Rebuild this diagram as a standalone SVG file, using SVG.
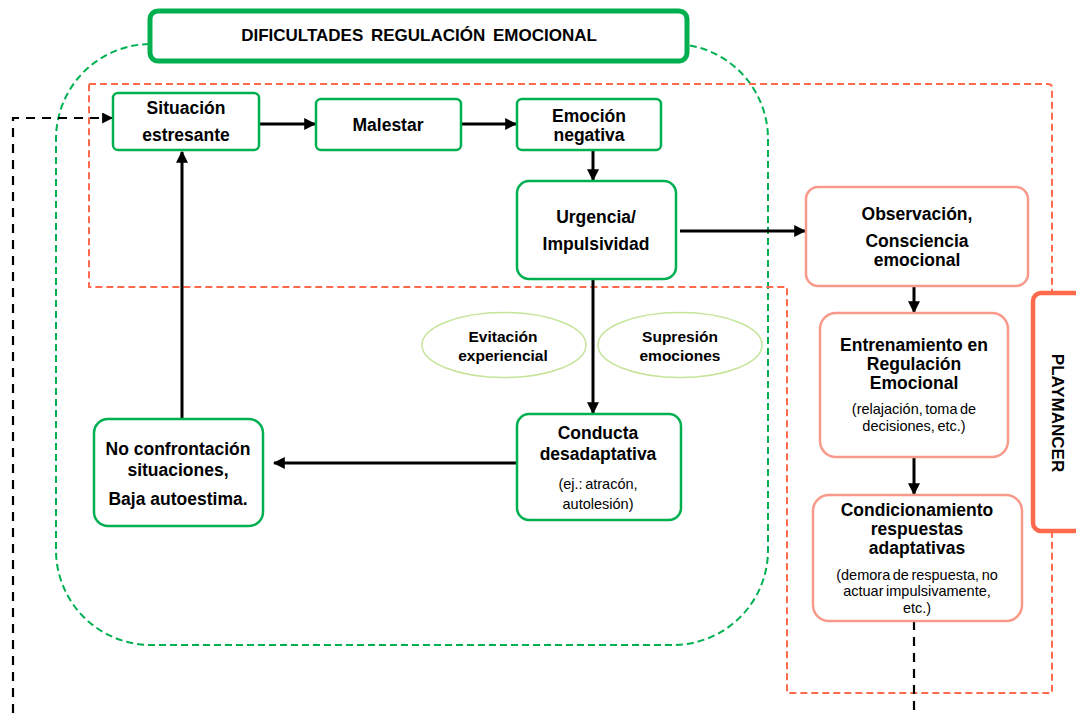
<svg xmlns="http://www.w3.org/2000/svg" width="1076" height="713" viewBox="0 0 1076 713">
<style>
text{font-family:"Liberation Sans",Arial,sans-serif;fill:#000;text-anchor:middle}
.b{font-weight:bold;font-size:17.5px}
.n{font-size:14.5px;word-spacing:-1.5px}
.o{font-weight:bold;font-size:15.5px}
.g{fill:#fff;stroke:#00B050;stroke-width:2.5}
.s{fill:#fff;stroke:#F9998A;stroke-width:2.5}
.e{fill:#fff;stroke:#C4E59A;stroke-width:1.5}
.a{stroke:#000;stroke-width:3;fill:none;marker-end:url(#ah)}
.d{stroke:#000;stroke-width:2.2;fill:none;stroke-dasharray:9 7}
</style>
<defs>
<marker id="ah" viewBox="0 0 10 10" refX="9" refY="5" markerWidth="4" markerHeight="4" orient="auto" markerUnits="strokeWidth"><path d="M0,0L10,5L0,10z" fill="#000"/></marker>
<marker id="ah2" viewBox="0 0 10 10" refX="9" refY="5" markerWidth="5" markerHeight="5" orient="auto" markerUnits="strokeWidth"><path d="M0,0L10,5L0,10z" fill="#000"/></marker>
</defs>
<rect width="1076" height="713" fill="#fff"/>
<g id="containers">
<rect x="56" y="44" width="712" height="601" rx="95" ry="95" fill="none" stroke="#00B050" stroke-width="2" stroke-dasharray="7 4"/>
<path d="M89,84 L1048,84 Q1052,84 1052,88 L1052,693 L787,693 L787,287 L89,287 Z" fill="none" stroke="#FF6A4D" stroke-width="2" stroke-dasharray="7 4"/>
</g>
<g id="title">
<rect x="150" y="11" width="537" height="50" rx="8" fill="#fff" stroke="#00B050" stroke-width="5"/>
<text x="419" y="41" class="b" style="font-size:17px;word-spacing:3px">DIFICULTADES REGULACIÓN EMOCIONAL</text>
</g>
<g id="playmancer">
<rect x="1033" y="293" width="60" height="238" rx="8" fill="#fff" stroke="#FF6A4D" stroke-width="4.5"/>
<text x="1058" y="413" class="b" transform="rotate(90 1058 413)" dy="6" style="font-size:17px">PLAYMANCER</text>
</g>
<g id="connectors">
<line x1="259" y1="124" x2="315" y2="124" class="a"/>
<line x1="461" y1="124" x2="516" y2="124" class="a"/>
<line x1="593" y1="151" x2="593" y2="180" class="a"/>
<line x1="680" y1="231" x2="805" y2="231" class="a"/>
<line x1="593" y1="279" x2="593" y2="413" class="a"/>
<line x1="517" y1="463" x2="274" y2="463" class="a"/>
<line x1="182" y1="419" x2="182" y2="152" class="a"/>
<line x1="914" y1="286" x2="914" y2="312" class="a"/>
<line x1="914" y1="457" x2="914" y2="494" class="a"/>
<path d="M914,621 L914,713" class="d"/>
<path d="M13,713 L13,118 L112,118" class="d" marker-end="url(#ah2)"/>
</g>
<g id="situacion">
<rect x="113" y="93" width="146" height="57" rx="5" class="g"/>
<text x="186" y="114" class="b">Situación</text>
<text x="186" y="141" class="b">estresante</text>
</g>
<g id="malestar">
<rect x="316" y="99" width="145" height="51" rx="5" class="g"/>
<text x="388" y="131" class="b">Malestar</text>
</g>
<g id="emocion">
<rect x="517" y="99" width="144" height="51" rx="5" class="g"/>
<text x="589" y="122" class="b">Emoción</text>
<text x="589" y="141" class="b">negativa</text>
</g>
<g id="urgencia">
<rect x="517" y="181" width="159" height="98" rx="12" class="g"/>
<text x="596" y="223" class="b">Urgencia/</text>
<text x="596" y="250" class="b">Impulsividad</text>
</g>
<g id="observacion">
<rect x="806" y="187" width="222" height="99" rx="12" class="s"/>
<text x="917" y="220" class="b">Observación,</text>
<text x="917" y="247" class="b">Consciencia</text>
<text x="917" y="266" class="b">emocional</text>
</g>
<g id="entrenamiento">
<rect x="820" y="313" width="188" height="144" rx="16" class="s"/>
<text x="914" y="351" class="b">Entrenamiento en</text>
<text x="914" y="370" class="b">Regulación</text>
<text x="914" y="389" class="b">Emocional</text>
<text x="914" y="414" class="n">(relajación, toma de</text>
<text x="914" y="431" class="n">decisiones, etc.)</text>
</g>
<g id="condicionamiento">
<rect x="813" y="495" width="209" height="126" rx="16" class="s"/>
<text x="917" y="516" class="b">Condicionamiento</text>
<text x="917" y="535" class="b">respuestas</text>
<text x="917" y="554" class="b">adaptativas</text>
<text x="917" y="580" class="n">(demora de respuesta, no</text>
<text x="917" y="596" class="n">actuar impulsivamente,</text>
<text x="917" y="613" class="n">etc.)</text>
</g>
<g id="evitacion">
<ellipse cx="504" cy="345" rx="82" ry="32.5" class="e"/>
<text x="503" y="342" class="o">Evitación</text>
<text x="503" y="361" class="o">experiencial</text>
</g>
<g id="supresion">
<ellipse cx="680" cy="345" rx="82" ry="32.5" class="e"/>
<text x="680" y="342" class="o">Supresión</text>
<text x="680" y="361" class="o">emociones</text>
</g>
<g id="conducta">
<rect x="517" y="414" width="164" height="106" rx="12" class="g"/>
<text x="598" y="439" class="b">Conducta</text>
<text x="598" y="460" class="b">desadaptativa</text>
<text x="598" y="489" class="n">(ej.: atracón,</text>
<text x="598" y="509" class="n">autolesión)</text>
</g>
<g id="noconfrontacion">
<rect x="94" y="419" width="169" height="107" rx="14" class="g"/>
<text x="178" y="455" class="b">No confrontación</text>
<text x="178" y="476" class="b">situaciones,</text>
<text x="178" y="505" class="b">Baja autoestima.</text>
</g>
</svg>
